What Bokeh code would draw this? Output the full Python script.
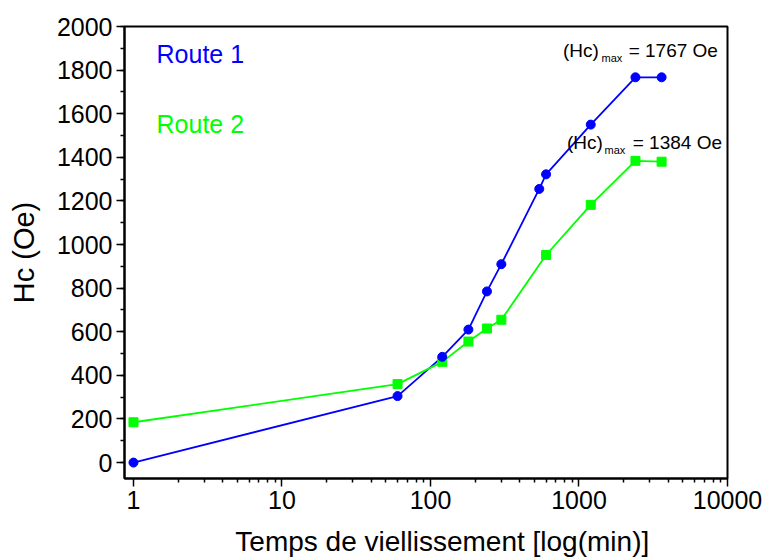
from bokeh.plotting import figure
from bokeh.models import (Range1d, FixedTicker, SingleIntervalTicker, PrintfTickFormatter, Label,
                          LinearAxis, LinearScale)
from bokeh.embed import file_html
from bokeh.resources import INLINE

# Data (aging time in minutes, coercivity Hc in Oe)
time_route1 = [1, 60, 120, 180, 240, 300, 540, 600, 1200, 2400, 3600]
hc_route1 = [0, 305, 485, 610, 785, 910, 1255, 1322, 1550, 1767, 1767]
time_route2 = [1, 60, 120, 180, 240, 300, 600, 1200, 2400, 3600]
hc_route2 = [185, 360, 462, 555, 615, 655, 952, 1182, 1384, 1380]
x_major_ticks = [1, 10, 100, 1000, 10000]
series_names = ["Route 1", "Route 2"]
series_colors = ["#0000ff", "#00ff00"]
x_title = "Temps de viellissement [log(min)]"
y_title = "Hc (Oe)"

FONT = "Liberation Sans"

p = figure(width=768, height=560, x_axis_type="log", output_backend="svg",
           toolbar_location=None, x_range=Range1d(0.87, 10000), y_range=Range1d(-73, 2000),
           min_border_left=124, min_border_top=26, min_border_right=41, min_border_bottom=82)
p.grid.visible = False
p.outline_line_color = "black"
p.outline_line_width = 2
p.background_fill_color = "white"
p.border_fill_color = "white"

minor = [k * 10 ** d for d in range(4) for k in range(2, 10)]
p.xaxis.ticker = FixedTicker(ticks=x_major_ticks, minor_ticks=minor)
p.xaxis.formatter = PrintfTickFormatter(format="%d")
p.yaxis.ticker = SingleIntervalTicker(interval=200, num_minor_ticks=2)

for ax in (p.xaxis[0], p.yaxis[0]):
    ax.axis_line_width = 2
    ax.major_tick_line_width = 1.5
    ax.minor_tick_line_width = 1.5
    ax.major_tick_out = 8
    ax.major_tick_in = 0
    ax.minor_tick_out = 4
    ax.minor_tick_in = 0
    ax.major_label_text_font = FONT
    ax.major_label_text_font_size = "25px"
    ax.major_label_text_color = "black"
    ax.axis_label_text_font = FONT
    ax.axis_label_text_font_size = "29px"
    ax.axis_label_text_font_style = "normal"
    ax.axis_label_text_color = "black"
    ax.major_label_standoff = 4

p.xaxis.major_label_text_line_height = 0.6
p.yaxis.axis_label = y_title
p.yaxis.axis_label_standoff = 14

# x-axis title drawn as the single tick label of a bare helper axis,
# so it can sit slightly right of the frame centre as in the original
p.extra_x_ranges = {"xtitle": Range1d(0, 1)}
p.extra_x_scales = {"xtitle": LinearScale()}
title_axis = LinearAxis(x_range_name="xtitle", ticker=FixedTicker(ticks=[0.527], minor_ticks=[]),
                        major_label_overrides={0.527: x_title})
title_axis.axis_line_color = None
title_axis.major_tick_line_color = None
title_axis.major_tick_out = 0
title_axis.major_tick_in = 0
title_axis.minor_tick_out = 0
title_axis.minor_tick_in = 0
title_axis.major_label_standoff = 14
title_axis.major_label_text_font = FONT
title_axis.major_label_text_font_size = "28px"
title_axis.major_label_text_color = "black"
p.add_layout(title_axis, "below")

# lines
p.line(time_route1, hc_route1, line_color=series_colors[0], line_width=1.8)
p.line(time_route2, hc_route2, line_color=series_colors[1], line_width=1.8)
p.scatter(time_route2, hc_route2, marker="square", size=9, fill_color=series_colors[1], line_color=series_colors[1])
p.scatter(time_route1, hc_route1, marker="circle", size=9, fill_color=series_colors[0], line_color=series_colors[0])

# series labels
p.add_layout(Label(x=1.43, y=1875, text=series_names[0], text_color=series_colors[0],
                   text_font=FONT, text_font_size="25px", text_baseline="alphabetic"))
p.add_layout(Label(x=1.43, y=1555, text=series_names[1], text_color=series_colors[1],
                   text_font=FONT, text_font_size="25px", text_baseline="alphabetic"))

# max annotations
def max_note(x0, xs, x1, y, val):
    p.add_layout(Label(x=x0, y=y, text="(Hc)", text_font=FONT, text_font_size="19px",
                       text_baseline="alphabetic", text_color="black"))
    p.add_layout(Label(x=xs, y=y - 36, text="max", text_font=FONT, text_font_size="11px",
                       text_baseline="alphabetic", text_color="black"))
    p.add_layout(Label(x=x1, y=y, text=f"= {val} Oe", text_font=FONT, text_font_size="19px",
                       text_baseline="alphabetic", text_color="black"))

max_note(780, 1418, 2160, 1890, max(hc_route1))
max_note(830, 1485, 2300, 1470, max(hc_route2))

open("out.html", "w").write(file_html(p, INLINE))
